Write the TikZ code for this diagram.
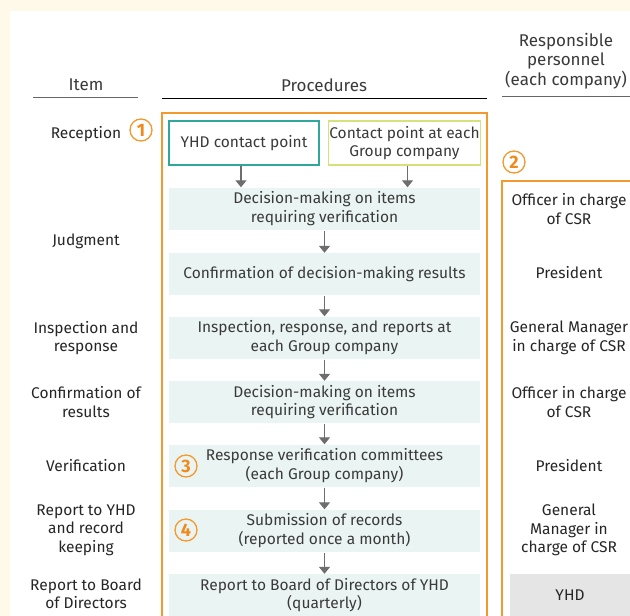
\documentclass[tikz,border=0pt]{standalone}
\usepackage{fontspec}
\setmainfont{Fira Sans}
\usetikzlibrary{arrows.meta}
\definecolor{ink}{HTML}{3A3A3A}
\definecolor{cream}{HTML}{FFF9EA}
\definecolor{orangeedge}{HTML}{F39A2E}
\definecolor{orangetext}{HTML}{F08A1C}
\definecolor{tealedge}{HTML}{2FA89B}
\definecolor{limeedge}{HTML}{D6E17C}
\definecolor{stepfill}{HTML}{EAF4F2}
\definecolor{arrowgray}{HTML}{6E6E6E}
\definecolor{yhdfill}{HTML}{E5E5E5}
\tikzset{
  font=\fontsize{15.5}{18.5}\selectfont,
  >={Triangle[length=7pt,width=11pt]},
  head/.style={text=ink,align=center,font=\fontsize{17}{19.5}\selectfont},
  item/.style={text=black!85,align=center},
  person/.style={text=black!85,align=center},
  contact/.style={draw,line width=1.2pt,align=center,minimum height=44pt,inner sep=1pt,text=ink},
  stepbox/.style={fill=stepfill,align=center,minimum width=311pt,minimum height=42pt,inner sep=0pt,text=ink},
  num/.style={circle,draw=orangeedge,line width=1.3pt,text=orangetext,minimum size=22pt,inner sep=0pt,font=\fontsize{18}{18}\selectfont\bfseries},
  flow/.style={->,draw=arrowgray,line width=1.2pt},
  rule/.style={draw=ink,line width=1pt},
  frame/.style={draw=orangeedge,line width=1.4pt}
}
\begin{document}
\begin{tikzpicture}[x=1pt,y=-1pt]
  \useasboundingbox (0,0) rectangle (630,616);
  \fill[cream] (0,0) rectangle (630,616);
  \fill[white] (10,11) rectangle (630,616);

  % column heads
  \node[head] (hitem) at (86,85) {Item};
  \node[head] (hproc) at (324,85) {Procedures};
  \node[head] (hpers) at (566,61) {Responsible\\personnel\\(each company)};
  \draw[rule,draw=black!60] (33,97) -- (138,97);
  \draw[rule,draw=black] (162,98) -- (487,98);
  \draw[rule,draw=black!60] (502,96) -- (630,96);

  % frames
  \draw[frame] (162,616) -- (162,113) -- (487,113) -- (487,616);
  \draw[frame] (630,181) -- (502,181) -- (502,616);

  % procedures
  \node[contact,draw=tealedge,minimum width=150pt] (yhd) at (244,143) {YHD contact point};
  \node[contact,draw=limeedge,minimum width=151pt] (grp) at (404.5,143) {Contact point at each\\Group company};
  \node[stepbox] (p1) at (324.5,208.5) {Decision-making on items\\requiring verification};
  \node[stepbox] (p2) at (324.5,274) {Confirmation of decision-making results};
  \node[stepbox] (p3) at (324.5,337.5) {Inspection, response, and reports at\\each Group company};
  \node[stepbox] (p4) at (324.5,402) {Decision-making on items\\requiring verification};
  \node[stepbox] (p5) at (324.5,465.5) {Response verification committees\\(each Group company)};
  \node[stepbox] (p6) at (324.5,530.5) {Submission of records\\(reported once a month)};
  \node[stepbox] (p7) at (324.5,595) {Report to Board of Directors of YHD\\(quarterly)};

  \draw[flow] ([xshift=-3pt]yhd.south) -- ([xshift=-3pt]yhd.south |- p1.north);
  \draw[flow] ([xshift=3pt]grp.south) -- ([xshift=3pt]grp.south |- p1.north);
  \foreach \a/\b in {p1/p2,p2/p3,p3/p4,p4/p5,p5/p6,p6/p7}
    \draw[flow] ([yshift=-1pt]\a.south) -- (\b.north);

  % markers
  \node[num] (n1) at (141,130) {1};
  \node[num] (n2) at (514,162) {2};
  \node[num] (n3) at (186,466) {3};
  \node[num] (n4) at (186,530) {4};

  % items
  \node[item] (i1) at (86,134) {Reception};
  \node[item] (i2) at (86,241) {Judgment};
  \node[item] (i3) at (86,338) {Inspection and\\response};
  \node[item] (i4) at (86,402) {Confirmation of\\results};
  \node[item] (i5) at (86,466) {Verification};
  \node[item] (i6) at (86,530) {Report to YHD\\and record\\keeping};
  \node[item] (i7) at (86,594) {Report to Board\\of Directors};

  % responsible personnel
  \node[person] (r1) at (569,209) {Officer in charge\\of CSR};
  \node[person] (r2) at (569,273) {President};
  \node[person] (r3) at (569,338) {General Manager\\in charge of CSR};
  \node[person] (r4) at (569,402) {Officer in charge\\of CSR};
  \node[person] (r5) at (569,466) {President};
  \node[person] (r6) at (569,530) {General\\Manager in\\charge of CSR};
  \fill[yhdfill] (510,574) rectangle (630,616);
  \node[person] (r7) at (570,595) {YHD};
\end{tikzpicture}
\end{document}
